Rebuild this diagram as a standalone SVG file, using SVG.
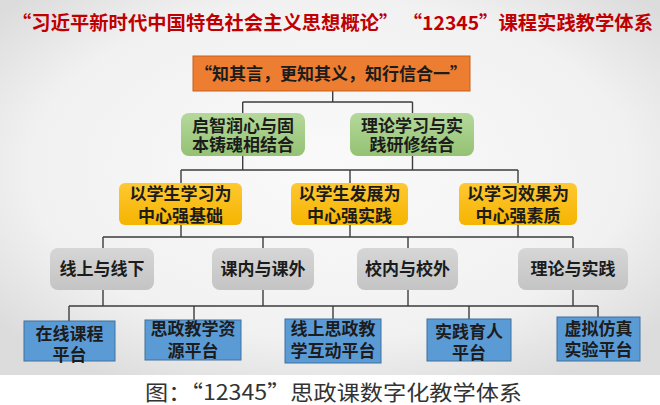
<svg xmlns="http://www.w3.org/2000/svg" width="660" height="405" viewBox="0 0 660 405">
<defs>
<radialGradient id="bg" cx="50%" cy="45%" r="65%">
<stop offset="0" stop-color="#fafafa"/>
<stop offset="0.7" stop-color="#f1f1f1"/>
<stop offset="1" stop-color="#dcdcdc"/>
</radialGradient>
<linearGradient id="gGreen" x1="0" y1="0" x2="0" y2="1">
<stop offset="0" stop-color="#b5d89b"/>
<stop offset="1" stop-color="#94c273"/>
</linearGradient>
<linearGradient id="gGray" x1="0" y1="0" x2="0" y2="1">
<stop offset="0" stop-color="#d6d6d6"/>
<stop offset="1" stop-color="#c4c4c4"/>
</linearGradient>
<linearGradient id="gYellow" x1="0" y1="0" x2="0" y2="1">
<stop offset="0" stop-color="#ffc832"/>
<stop offset="1" stop-color="#f5b400"/>
</linearGradient>
</defs>
<style>
text{font-family:"Noto Sans CJK SC","Noto Sans",sans-serif;}
.t{font-size:17px;font-weight:700;fill:#1c1c1c;text-anchor:middle;}
.title{font-size:19px;font-weight:700;fill:#c00000;}
.cap{font-size:21px;font-weight:400;fill:#333333;}
.orange{fill:#ed7d31;stroke:#c9601a;stroke-width:1;}
.green{fill:url(#gGreen);}
.yellow{fill:url(#gYellow);}
.gray{fill:url(#gGray);}
.blue{fill:#5b9bd5;stroke:#41719c;stroke-width:1;}
.conn{fill:none;stroke:#3d3d3d;stroke-width:1.4;}
</style>
<rect x="0" y="0" width="660" height="375" fill="url(#bg)"/>
<rect x="0" y="375" width="660" height="30" fill="#ffffff"/>
<text class="title" x="12" y="30" textLength="641" lengthAdjust="spacingAndGlyphs">“习近平新时代中国特色社会主义思想概论” “12345”课程实践教学体系</text>
<g id="connectors" class="conn">
<path d="M332.7,91 V102 M242.7,102 H412.5 M242.7,102 V113 M412.5,102 V113"/>
<path d="M242.7,156 V170 M412.5,156 V170 M181,170 H518 M181,170 V183 M350,170 V183 M518,170 V183"/>
<path d="M181,225 V237 M350,225 V237 M518,225 V237 M103,237 H573 M103,237 V248 M263,237 V248 M408,237 V248 M573,237 V248"/>
<path d="M103,290 V306 M263,290 V306 M408,290 V306 M573,290 V306 M69,306 H598 M69,306 V321 M194,306 V320 M333,306 V319 M469,306 V319 M598,306 V317"/>
</g>
<g id="n-root">
<rect class="orange" x="193" y="56" width="277" height="35"/>
<text class="t" x="331" y="79.5">“知其言，更知其义，知行信合一”</text>
</g>
<g id="n-green1">
<rect class="green" x="181" y="113" width="124" height="43" rx="8"/>
<text class="t" x="243" y="131.5">启智润心与固<tspan x="243" dy="19.5">本铸魂相结合</tspan></text>
</g>
<g id="n-green2">
<rect class="green" x="350" y="113" width="124" height="43" rx="8"/>
<text class="t" x="412" y="131.5">理论学习与实<tspan x="412" dy="19.5">践研修结合</tspan></text>
</g>
<g id="n-yellow1">
<rect class="yellow" x="119" y="183" width="123" height="42" rx="6"/>
<text class="t" x="180.5" y="200">以学生学习为<tspan x="180.5" dy="21.5">中心强基础</tspan></text>
</g>
<g id="n-yellow2">
<rect class="yellow" x="291" y="183" width="117" height="42" rx="6"/>
<text class="t" x="349.5" y="200">以学生发展为<tspan x="349.5" dy="21.5">中心强实践</tspan></text>
</g>
<g id="n-yellow3">
<rect class="yellow" x="459" y="183" width="118" height="42" rx="6"/>
<text class="t" x="518" y="200">以学习效果为<tspan x="518" dy="21.5">中心强素质</tspan></text>
</g>
<g id="n-gray1">
<rect class="gray" x="50" y="248" width="104" height="42" rx="8"/>
<text class="t" x="102" y="275">线上与线下</text>
</g>
<g id="n-gray2">
<rect class="gray" x="212" y="248" width="102" height="42" rx="8"/>
<text class="t" x="263" y="275">课内与课外</text>
</g>
<g id="n-gray3">
<rect class="gray" x="357" y="248" width="101" height="42" rx="8"/>
<text class="t" x="407.5" y="275">校内与校外</text>
</g>
<g id="n-gray4">
<rect class="gray" x="518" y="248" width="110" height="42" rx="8"/>
<text class="t" x="573" y="275">理论与实践</text>
</g>
<g id="n-blue1">
<rect class="blue" x="24" y="321" width="91" height="40"/>
<text class="t" x="69.5" y="340">在线课程<tspan x="69.5" dy="21">平台</tspan></text>
</g>
<g id="n-blue2">
<rect class="blue" x="145" y="320" width="96" height="40"/>
<text class="t" x="193" y="335">思政教学资<tspan x="193" dy="22">源平台</tspan></text>
</g>
<g id="n-blue3">
<rect class="blue" x="285" y="319" width="96" height="44"/>
<text class="t" x="333" y="335">线上思政教<tspan x="333" dy="22">学互动平台</tspan></text>
</g>
<g id="n-blue4">
<rect class="blue" x="427" y="319" width="84" height="42"/>
<text class="t" x="469" y="338">实践育人<tspan x="469" dy="21">平台</tspan></text>
</g>
<g id="n-blue5">
<rect class="blue" x="557" y="317" width="83" height="44"/>
<text class="t" x="598.5" y="335">虚拟仿真<tspan x="598.5" dy="21">实验平台</tspan></text>
</g>
<text class="cap" x="145" y="400" textLength="377" lengthAdjust="spacingAndGlyphs">图：“12345”思政课数字化教学体系</text>
</svg>
